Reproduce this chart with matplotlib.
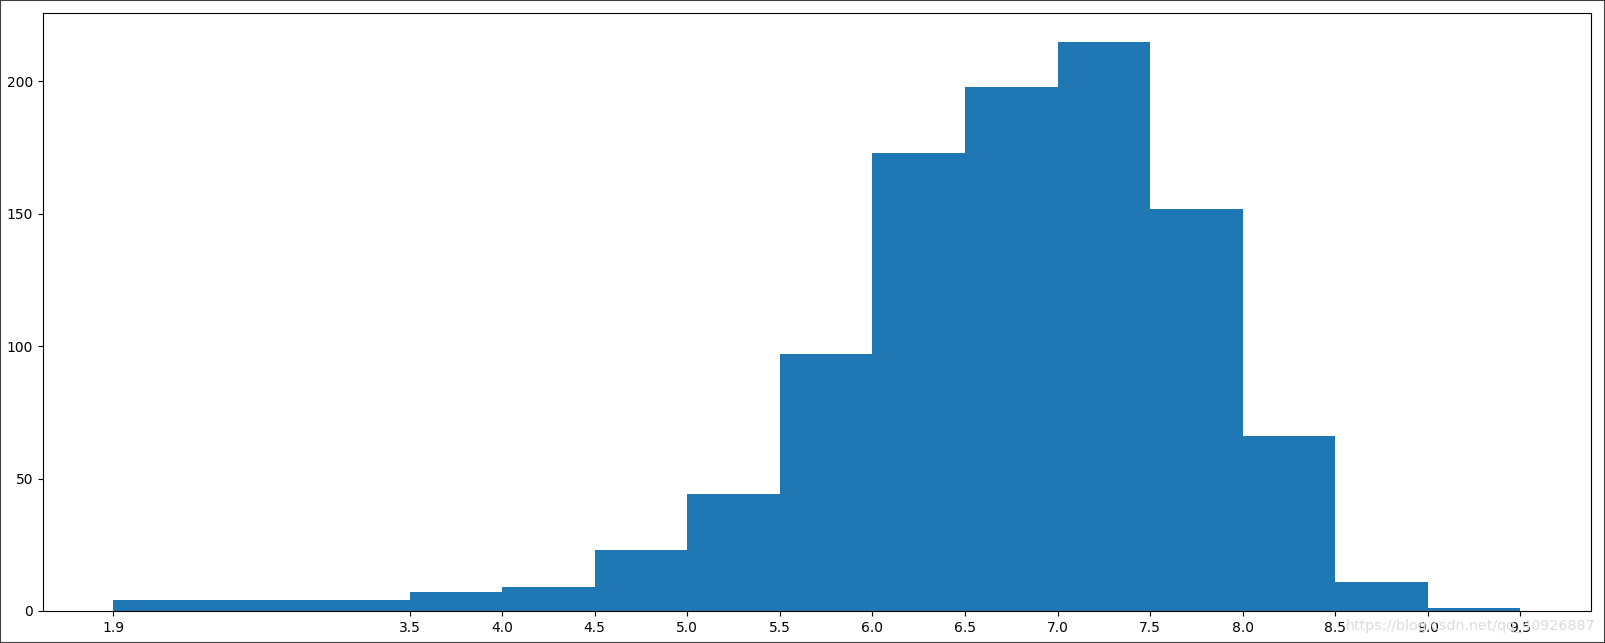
import numpy as np
import matplotlib
matplotlib.use("Agg")
import matplotlib.pyplot as plt
from matplotlib.patches import Rectangle

# bin edges and counts
bins = [1.9, 3.5, 4.0, 4.5, 5.0, 5.5, 6.0, 6.5, 7.0, 7.5, 8.0, 8.5, 9.0, 9.5]
counts = [4, 7, 9, 23, 44, 97, 173, 198, 215, 152, 66, 11, 1]

fig = plt.figure(figsize=(16.05, 6.43), dpi=100)
ax = fig.add_axes([0.0268, 0.0498, 0.9643, 0.9295])

ax.hist(bins[:-1], bins=bins, weights=counts, color="#1f77b4")
ax.set_xticks(bins)
ax.set_yticks([0, 50, 100, 150, 200])

# grey frame round the whole figure
fig.patches.append(Rectangle((0, 0), 1, 1, transform=fig.transFigure,
                             fill=False, edgecolor="#404040", lw=1.5))

# watermark
fig.text(0.994, 0.027, "https://blog.csdn.net/qq_40926887", ha="right", va="center",
         fontsize=10.3, color="#dcdcdc")

fig.savefig("out.png", dpi=100)
